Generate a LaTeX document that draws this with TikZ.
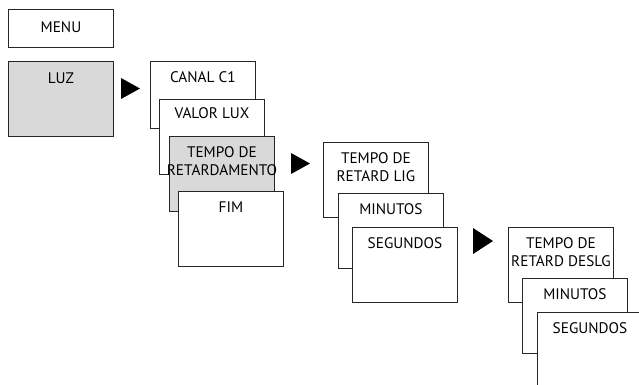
\documentclass[tikz,border=0pt]{standalone}
\usepackage{fontspec}
\setmainfont{PT Sans}
\usepackage{tikz}

\tikzset{
  menubox/.style={shape=rectangle,draw=black!85,line width=0.9pt,fill=white,minimum width=105pt,minimum height=75pt,anchor=north west,inner sep=0pt},
  activebox/.style={menubox,fill=gray!30},
  boxtext/.style={anchor=north,inner sep=0pt,yshift=-10.5pt,align=center,font=\fontsize{15.3}{18}\selectfont},
  pointer/.style={fill=black}
}

\begin{document}
\begin{tikzpicture}[x=1pt,y=1pt]
        \useasboundingbox (0,0) rectangle (639,-384);

        \node[menubox,minimum height=38pt] (menu) at (8,-9) {};
        \node[boxtext,yshift=-1.5pt] (menu-t) at (menu.north) {MENU};
        \node[activebox] (luz) at (8,-61) {};
        \node[boxtext,yshift=-1.5pt] (luz-t) at (luz.north) {LUZ};
        \fill[pointer] (121,-78) -- (140,-88.5) -- (121,-99) -- cycle;

        % LUZ submenu
        \node[menubox,minimum height=67pt] (canal) at (150,-61) {};
        \node[boxtext] (canal-t) at (canal.north) {CANAL C1};
        \node[menubox] (valor) at (159,-99) {};
        \node[boxtext,yshift=2pt] (valor-t) at (valor.north) {VALOR LUX};
        \node[activebox] (retard) at (169,-136) {};
        \node[boxtext] (retard-t) at (retard.north) {TEMPO DE\\RETARDAMENTO};
        \node[menubox] (fim) at (178,-191) {};
        \node[boxtext] (fim-t) at (fim.north) {FIM};
        \fill[pointer] (291,-153) -- (310,-163.5) -- (291,-174) -- cycle;

        % TEMPO DE RETARDAMENTO submenu
        \node[menubox] (lig) at (323,-142) {};
        \node[boxtext] (lig-t) at (lig.north) {TEMPO DE\\RETARD LIG};
        \node[menubox] (ligmin) at (338,-193) {};
        \node[boxtext] (ligmin-t) at (ligmin.north) {MINUTOS};
        \node[menubox] (ligseg) at (352,-227) {};
        \node[boxtext] (ligseg-t) at (ligseg.north) {SEGUNDOS};
        \fill[pointer] (473,-228) -- (493,-241) -- (473,-254) -- cycle;

        \node[menubox] (deslg) at (508,-227) {};
        \node[boxtext] (deslg-t) at (deslg.north) {TEMPO DE\\RETARD DESLG};
        \node[menubox] (deslgmin) at (522,-278) {};
        \node[boxtext] (deslgmin-t) at (deslgmin.north) {MINUTOS};
        \node[menubox] (deslgseg) at (537,-312) {};
        \node[boxtext] (deslgseg-t) at (deslgseg.north) {SEGUNDOS};
\end{tikzpicture}
\end{document}
